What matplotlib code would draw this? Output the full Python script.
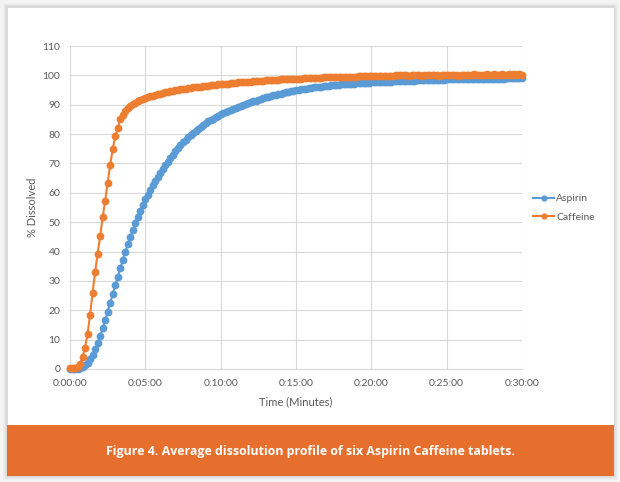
import numpy as np
import matplotlib
matplotlib.use("Agg")
import matplotlib.pyplot as plt
from matplotlib.patches import Rectangle

# sampling every 10 s over 30 min
time_s = np.arange(0, 1810, 10)

caffeine = [
    0.3,
    0.3, 0.4, 0.8, 1.8, 4.2, 7.3,
    12.0, 18.5, 26.0, 33.0, 39.3, 45.2,
    51.6, 57.3, 63.4, 69.5, 74.8, 79.2,
    82.0, 85.0, 86.6, 87.8, 88.8, 89.5,
    90.1, 90.6, 91.1, 91.5, 91.9, 92.3,
    92.6, 92.9, 93.1, 93.4, 93.6, 93.8,
    94.0, 94.2, 94.4, 94.6, 94.8, 94.9,
    95.1, 95.2, 95.4, 95.5, 95.6, 95.8,
    95.9, 96.0, 96.1, 96.2, 96.3, 96.4,
    96.5, 96.6, 96.7, 96.8, 96.9, 97.0,
    97.1, 97.2, 97.2, 97.3, 97.4, 97.5,
    97.6, 97.6, 97.7, 97.8, 97.8, 97.9,
    98.0, 98.0, 98.1, 98.1, 98.2, 98.3,
    98.3, 98.4, 98.4, 98.5, 98.5, 98.6,
    98.6, 98.7, 98.7, 98.8, 98.8, 98.9,
    98.9, 98.9, 99.0, 99.0, 99.1, 99.1,
    99.1, 99.2, 99.2, 99.2, 99.3, 99.3,
    99.3, 99.4, 99.4, 99.4, 99.5, 99.5,
    99.5, 99.5, 99.6, 99.6, 99.6, 99.6,
    99.7, 99.7, 99.7, 99.7, 99.8, 99.8,
    99.8, 99.8, 99.8, 99.9, 99.9, 99.9,
    99.9, 99.9, 99.9, 100.0, 100.0, 100.0,
    100.0, 100.1, 99.9, 100.0, 100.1, 100.0,
    100.0, 99.9, 100.1, 100.0, 100.0, 100.1,
    100.0, 100.0, 99.9, 100.1, 100.0, 100.1,
    100.2, 100.0, 100.0, 100.1, 99.9, 100.0,
    100.1, 100.2, 100.0, 100.1, 100.3, 100.1,
    100.0, 100.2, 100.1, 100.3, 100.1, 100.2,
    100.3, 100.1, 100.2, 100.4, 100.2, 100.1,
    100.3, 100.2, 100.4, 100.2, 100.3, 100.2,
]

aspirin = [
    0.0,
    0.0, 0.0, 0.1, 0.3, 0.7, 1.3,
    2.2, 3.4, 4.9, 6.7, 8.8, 11.2,
    13.8, 16.6, 19.5, 22.5, 25.5, 28.5,
    31.4, 34.3, 37.1, 39.8, 42.4, 44.9,
    47.3, 49.6, 51.8, 53.9, 55.9, 57.8,
    59.4, 61.0, 62.5, 64.0, 65.4, 66.8,
    68.1, 69.4, 70.6, 71.8, 73.0, 74.1,
    75.2, 76.2, 77.2, 78.1, 79.0, 79.8,
    80.5, 81.2, 81.9, 82.5, 83.1, 83.7,
    84.3, 84.8, 85.3, 85.8, 86.3, 86.7,
    87.1, 87.5, 87.9, 88.3, 88.7, 89.0,
    89.3, 89.6, 89.9, 90.2, 90.5, 90.8,
    91.1, 91.4, 91.7, 92.0, 92.2, 92.5,
    92.7, 93.0, 93.2, 93.4, 93.6, 93.8,
    94.0, 94.2, 94.4, 94.6, 94.7, 94.9,
    95.1, 95.2, 95.4, 95.5, 95.6, 95.8,
    95.9, 96.0, 96.1, 96.2, 96.3, 96.4,
    96.5, 96.6, 96.6, 96.7, 96.8, 96.9,
    96.9, 97.0, 97.1, 97.1, 97.2, 97.3,
    97.3, 97.4, 97.4, 97.5, 97.5, 97.6,
    97.6, 97.7, 97.7, 97.8, 97.8, 97.8,
    97.9, 97.9, 98.0, 98.0, 98.0, 98.1,
    98.1, 98.1, 98.2, 98.2, 98.2, 98.3,
    98.3, 98.3, 98.3, 98.4, 98.4, 98.4,
    98.4, 98.5, 98.5, 98.5, 98.5, 98.6,
    98.6, 98.6, 98.6, 98.6, 98.7, 98.7,
    98.7, 98.7, 98.7, 98.8, 98.8, 98.8,
    98.8, 98.8, 98.8, 98.8, 98.9, 98.9,
    98.9, 98.9, 98.9, 98.9, 98.9, 99.0,
    99.0, 99.0, 99.0, 99.0, 99.0, 99.0,
]

xtick_pos = [0, 300, 600, 900, 1200, 1500, 1800]
xtick_labels = ["0:00:00", "0:05:00", "0:10:00", "0:15:00", "0:20:00", "0:25:00", "0:30:00"]
yticks = list(range(0, 111, 10))

W, H = 620, 482
BLUE = "#5b9bd5"
ORANGE = "#ed7d31"
BANNER = "#e66f2d"
TXT = "#595959"
GRID = "#d9d9d9"

plt.rcParams["font.family"] = ["Lato", "DejaVu Sans"]


def px_rect(x0, y0, x1, y1, **kw):
    # rectangle given in image pixels (y down)
    return Rectangle((x0 / W, 1 - y1 / H), (x1 - x0) / W, (y1 - y0) / H,
                     transform=fig.transFigure, **kw)


fig = plt.figure(figsize=(W / 100, H / 100), dpi=100)
fig.patch.set_facecolor("#f4f4f4")

# soft shadow round the card
for i, a in enumerate([0.05, 0.07, 0.09, 0.12]):
    d = 4 - i
    fig.patches.append(px_rect(7 - d, 7 - d, 614 + d, 476 + d,
                               facecolor="#9a9a9a", edgecolor="none", alpha=a, zorder=0))
fig.patches.append(px_rect(7, 7, 614, 476, facecolor="white", edgecolor="#d6d6d6",
                           linewidth=0.6, zorder=1))
fig.patches.append(px_rect(7, 425, 614, 476, facecolor=BANNER, edgecolor="none", zorder=2))
fig.text(310 / W, 1 - 451 / H,
         "Figure 4. Average dissolution profile of six Aspirin Caffeine tablets.",
         ha="center", va="center", color="white", fontsize=8.9, fontweight="bold",
         family=["Open Sans", "DejaVu Sans"], zorder=3)

ax = fig.add_axes([70 / W, 1 - 369 / H, (522 - 70) / W, (369 - 46) / H])
ax.set_facecolor("none")
ax.set_zorder(4)

ax.plot(time_s, aspirin, color=BLUE, lw=1.5, marker="o", ms=5.6,
        markeredgewidth=0, label="Aspirin", clip_on=False, zorder=3)
ax.plot(time_s, caffeine, color=ORANGE, lw=1.5, marker="o", ms=5.6,
        markeredgewidth=0, label="Caffeine", clip_on=False, zorder=4)

ax.set_xlim(0, 1800)
ax.set_ylim(0, 110)
ax.set_xticks(xtick_pos)
ax.set_xticklabels(xtick_labels)
ax.set_yticks(yticks)
ax.tick_params(length=0, labelsize=7.5, colors=TXT, pad=7)
ax.grid(True, color=GRID, lw=0.8)
ax.set_axisbelow(True)
for s in ["top", "right", "left"]:
    ax.spines[s].set_visible(False)
ax.spines["bottom"].set_color(GRID)
ax.spines["bottom"].set_zorder(1)

ax.set_xlabel("Time (Minutes)", fontsize=8, color=TXT, labelpad=6)
ax.set_ylabel("% Dissolved", fontsize=8, color=TXT, labelpad=3)

ax.legend(loc="center left", bbox_to_anchor=(524 / W, 1 - 208 / H),
          bbox_transform=fig.transFigure, frameon=False, fontsize=7.5,
          labelcolor=TXT, handlelength=2.0, handletextpad=0.2, labelspacing=0.9,
          markerscale=0.8)

fig.savefig("out.png", dpi=100, facecolor=fig.get_facecolor())
